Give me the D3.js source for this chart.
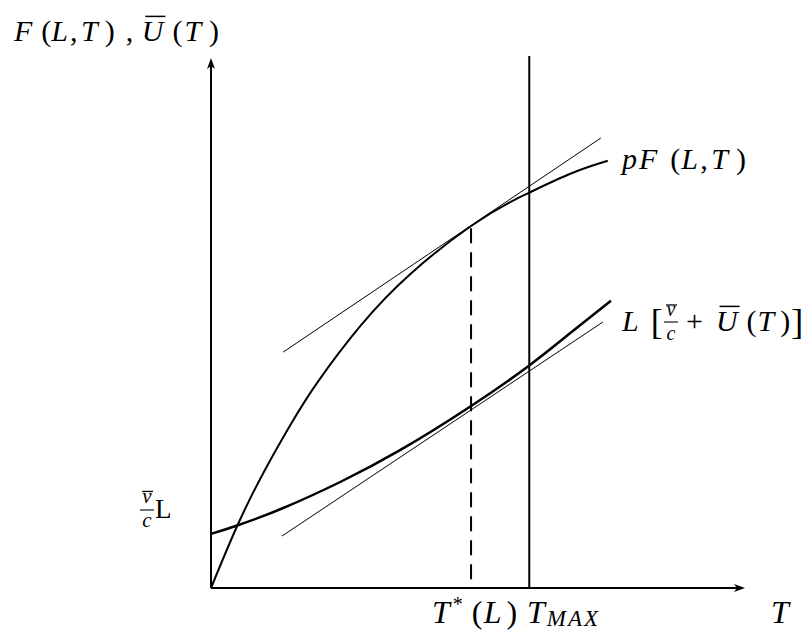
<!DOCTYPE html>
<html>
<head>
<meta charset="utf-8">
<script src="https://cdn.jsdelivr.net/npm/d3@7"></script>
<style>
  html, body { margin: 0; padding: 0; background: #fff; }
  svg text { font-family: "Liberation Serif", "DejaVu Serif", serif; fill: #000; }
</style>
</head>
<body>
<svg id="chart" width="808" height="633"></svg>
<script>
// Production curve pF(L,T) sampled along T
const pfT = [0, 0.49, 0.99, 1.50, 2.00, 2.81, 3.75, 4.87, 5.62, 5.96, 6.74, 7.43];
const pfV = [0, 1.17, 2.19, 3.10, 3.89, 4.96, 5.94, 6.83, 7.29, 7.46, 7.82, 8.06];

// Cost curve L[v/c + U(T)] sampled along T
const lcT = [0, 0.49, 1.33, 2.42, 3.54, 4.85, 5.96, 6.74, 7.49];
const lcV = [1.02, 1.18, 1.50, 2.00, 2.60, 3.42, 4.20, 4.82, 5.42];

// Tangent lines (start / end)
const tanUpT = [1.35, 7.30], tanUpV = [4.45, 8.49];
const tanLoT = [1.33, 7.34], tanLoV = [0.98, 5.02];

// Marked times on the T axis
const tStar = 4.87;
const tMax = 5.96;
const tStarTop = 6.79;
const tMaxTop = 10.04;

const svg = d3.select("#chart");
const x = d3.scaleLinear().domain([0, 10]).range([211, 745]);
const y = d3.scaleLinear().domain([0, 10]).range([588, 58]);

const line = d3.line().x(d => x(d[0])).y(d => y(d[1]));
const smooth = d3.line().x(d => x(d[0])).y(d => y(d[1])).curve(d3.curveNatural);

// Axes with arrowheads
svg.append("line").attr("x1", x(0)).attr("y1", y(0)).attr("x2", x(0)).attr("y2", y(10) + 6)
  .attr("stroke", "#000").attr("stroke-width", 2);
svg.append("line").attr("x1", x(0)).attr("y1", y(0)).attr("x2", x(10) - 6).attr("y2", y(0))
  .attr("stroke", "#000").attr("stroke-width", 2);
svg.append("path")
  .attr("d", `M${x(0)},${y(10)} L${x(0) - 4},${y(10) + 11} L${x(0)},${y(10) + 8} L${x(0) + 4},${y(10) + 11} Z`)
  .attr("fill", "#000");
svg.append("path")
  .attr("d", `M${x(10)},${y(0)} L${x(10) - 11},${y(0) - 4} L${x(10) - 8},${y(0)} L${x(10) - 11},${y(0) + 4} Z`)
  .attr("fill", "#000");

// T_MAX vertical
svg.append("line").attr("x1", x(tMax)).attr("x2", x(tMax)).attr("y1", y(0)).attr("y2", y(tMaxTop))
  .attr("stroke", "#000").attr("stroke-width", 2);

// T*(L) dashed drop line
svg.append("line").attr("x1", x(tStar)).attr("x2", x(tStar)).attr("y1", y(tStarTop)).attr("y2", y(0))
  .attr("stroke", "#000").attr("stroke-width", 2).attr("stroke-dasharray", "15,9");

// Tangent lines
svg.append("path").datum(d3.zip(tanUpT, tanUpV)).attr("d", line)
  .attr("fill", "none").attr("stroke", "#000").attr("stroke-width", 1);
svg.append("path").datum(d3.zip(tanLoT, tanLoV)).attr("d", line)
  .attr("fill", "none").attr("stroke", "#000").attr("stroke-width", 1);

// Curves
svg.append("path").datum(d3.zip(pfT, pfV)).attr("d", smooth)
  .attr("fill", "none").attr("stroke", "#000").attr("stroke-width", 2);
svg.append("path").datum(d3.zip(lcT, lcV)).attr("d", smooth)
  .attr("fill", "none").attr("stroke", "#000").attr("stroke-width", 2.5);

// One text element per formula; pieces are tspans with their own spacing and style
function mathText(x0, y0, fs, pieces) {
  const t = svg.append("text").attr("x", x0).attr("y", y0).attr("font-size", fs);
  let shift = 0;
  const spans = pieces.map(p => {
    const target = p.dy || 0;
    const s = t.append("tspan")
      .attr("dx", p.dx || 0)
      .attr("dy", target - shift)
      .attr("font-style", p.it ? "italic" : "normal")
      .text(p.t);
    if (p.fs) s.attr("font-size", p.fs);
    if (p.ls) s.attr("letter-spacing", p.ls);
    shift = target;
    return { s, p };
  });
  spans.forEach(({ s, p }) => {
    if (!p.over) return;
    const e = s.node().getExtentOfChar(0);
    const oy = y0 - fs * 0.82;
    svg.append("line").attr("x1", e.x + fs * 0.12).attr("x2", e.x + e.width + 2)
      .attr("y1", oy).attr("y2", oy).attr("stroke", "#000").attr("stroke-width", 1.5);
  });
  return t;
}

// Stacked fraction with an overlined numerator
function fraction(x0, y0, fs, w, num, den, up, down, bar) {
  svg.append("text").attr("x", x0 + w / 2).attr("y", y0 - up).attr("text-anchor", "middle")
    .attr("font-size", fs).attr("font-style", "italic").text(num);
  svg.append("text").attr("x", x0 + w / 2).attr("y", y0 + down).attr("text-anchor", "middle")
    .attr("font-size", fs).attr("font-style", "italic").text(den);
  svg.append("line").attr("x1", x0).attr("x2", x0 + w).attr("y1", y0 - bar).attr("y2", y0 - bar)
    .attr("stroke", "#000").attr("stroke-width", 1.1);
  const oy = y0 - up - fs * 0.55;
  svg.append("line").attr("x1", x0 + 2).attr("x2", x0 + w - 1).attr("y1", oy).attr("y2", oy)
    .attr("stroke", "#000").attr("stroke-width", 1.3);
}

// Y-axis title: F(L,T), U(T)
mathText(14, 41, 30, [
  { t: "F", it: true },
  { t: "(", dx: 9 },
  { t: "L", it: true },
  { t: ",", dx: 2 },
  { t: "T", it: true, dx: 3.5 },
  { t: ")", dx: 7 },
  { t: ",", dx: 11 },
  { t: "U", it: true, dx: 8.5, over: true },
  { t: "(", dx: 9 },
  { t: "T", it: true, dx: 2 },
  { t: ")", dx: 8 }
]);

// Production curve label: pF(L,T)
mathText(622, 169, 30, [
  { t: "p", it: true },
  { t: "F", it: true, dx: 2 },
  { t: "(", dx: 13 },
  { t: "L", it: true, dx: 1 },
  { t: ",", dx: 2.3 },
  { t: "T", it: true, dx: 3.5 },
  { t: ")", dx: 8 }
]);

// Cost curve label: L[v/c + U(T)]
mathText(622, 331, 30, [
  { t: "L", it: true },
  { t: "[", fs: 36, dx: 12, dy: 3 }
]);
fraction(664, 331, 20, 14, "v", "c", 15, 9, 9);
mathText(686, 331, 30, [
  { t: "+" },
  { t: "U", it: true, dx: 13, over: true },
  { t: "(", dx: 9 },
  { t: "T", it: true, dx: 1 },
  { t: ")", dx: 6 },
  { t: "]", fs: 36, dx: 1, dy: 3 }
]);

// Intercept label: v/c L
fraction(140, 518, 21, 14, "v", "c", 15, 9, 8);
mathText(155, 518, 27, [{ t: "L" }]);

// T-axis labels
mathText(432, 623, 32, [
  { t: "T", it: true },
  { t: "*", fs: 20, dx: 3, dy: -12 },
  { t: "(", dx: 9 },
  { t: "L", it: true, dx: 1.3 },
  { t: ")", dx: 5 }
]);
mathText(527, 623, 32, [
  { t: "T", it: true },
  { t: "MAX", it: true, fs: 23, ls: 2, dx: 2, dy: 3 }
]);
mathText(771, 623, 32, [{ t: "T", it: true }]);
</script>
</body>
</html>
